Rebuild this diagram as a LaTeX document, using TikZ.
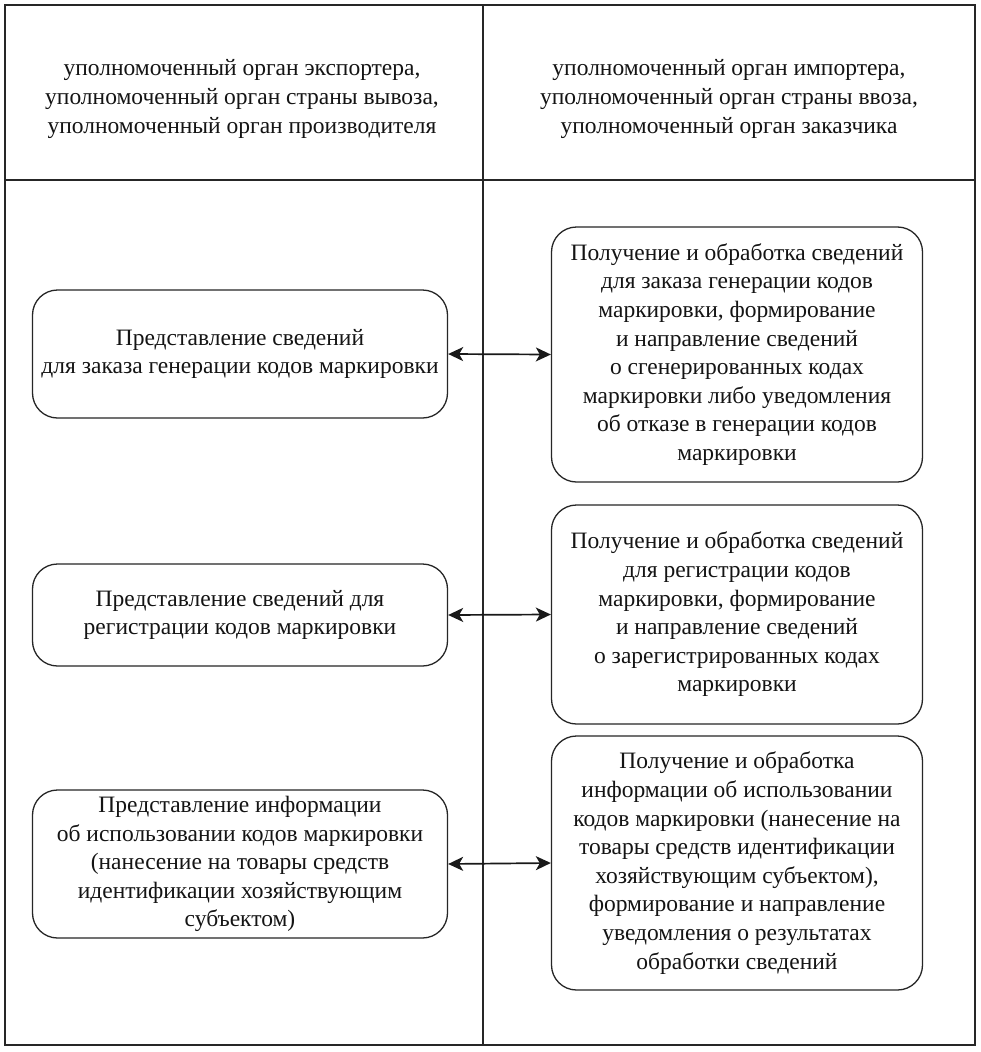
\documentclass[tikz,border=0pt]{standalone}
\usepackage{fontspec}
\setmainfont{Liberation Serif}
\usetikzlibrary{arrows.meta}
\begin{document}
\begin{tikzpicture}[x=1pt,y=-1pt,
  every node/.style={font=\fontsize{23.5}{28.6}\selectfont, text=black!92},
  frameline/.style={draw=black!85, line width=1.2pt},
  stepbox/.style={draw=black!85, line width=1.3pt, rounded corners=25pt, align=center, inner sep=0pt},
  lbox/.style={stepbox, minimum width=415pt},
  rbox/.style={stepbox, minimum width=371pt},
  link/.style={draw=black!90, line width=1.7pt, {Stealth[length=15pt,width=14pt,inset=4pt]}-{Stealth[length=15pt,width=14pt,inset=4pt]}},
  header/.style={align=center}
]
\useasboundingbox (0,0) rectangle (981,1052);
\fill[white] (0,0) rectangle (981,1052);

\coordinate (tl) at (5,5);
\coordinate (br) at (975,1045);
\coordinate (dtop) at (483,5);
\coordinate (dbot) at (483,1045);
\coordinate (hl) at (5,180);
\coordinate (hr) at (975,180);
\draw[frameline] (tl) rectangle (br);
\draw[frameline] (dtop) -- (dbot);
\draw[frameline] (hl) -- (hr);

\node[header] (h1) at (242,99) {уполномоченный орган экспортера,\\уполномоченный орган страны вывоза,\\уполномоченный орган производителя};
\node[header] (h2) at (729,99) {уполномоченный орган импортера,\\уполномоченный орган страны ввоза,\\уполномоченный орган заказчика};

\node[lbox, minimum height=128pt] (L1) at (240,354) {Представление сведений\\для заказа генерации кодов маркировки};
\node[lbox, minimum height=102pt] (L2) at (240,615) {Представление сведений для\\регистрации кодов маркировки};
\node[lbox, minimum height=148pt] (L3) at (240,864) {Представление информации\\об использовании кодов маркировки\\(нанесение на товары средств\\идентификации хозяйствующим\\субъектом)};

\node[rbox, minimum height=255pt] (R1) at (737,354.5) {Получение и обработка сведений\\для заказа генерации кодов\\маркировки, формирование\\и направление сведений\\о сгенерированных кодах\\маркировки либо уведомления\\об отказе в генерации кодов\\маркировки};
\node[rbox, minimum height=219pt] (R2) at (737,614.5) {Получение и обработка сведений\\для регистрации кодов\\маркировки, формирование\\и направление сведений\\о зарегистрированных кодах\\маркировки};
\node[rbox, minimum height=254pt] (R3) at (737,863) {Получение и обработка\\информации об использовании\\кодов маркировки (нанесение на\\товары средств идентификации\\хозяйствующим субъектом),\\формирование и направление\\уведомления о результатах\\обработки сведений};

\draw[link] (L1.east) -- (R1.west);
\draw[link] (L2.east) -- (R2.west);
\draw[link] (L3.east) -- (R3.west);
\end{tikzpicture}
\end{document}
